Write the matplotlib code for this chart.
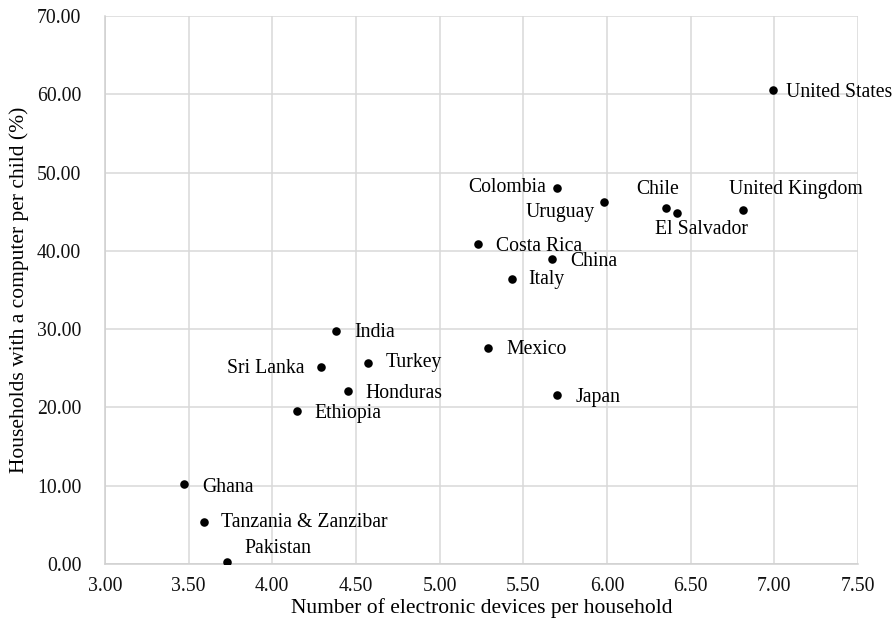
import matplotlib
matplotlib.use("Agg")
import matplotlib.pyplot as plt

countries = ["United States", "Colombia", "Uruguay", "Chile", "El Salvador", "United Kingdom",
             "Costa Rica", "China", "Italy", "India", "Sri Lanka", "Turkey", "Honduras",
             "Ethiopia", "Mexico", "Japan", "Ghana", "Tanzania & Zanzibar", "Pakistan"]
devices = [6.99, 5.70, 5.98, 6.35, 6.42, 6.81, 5.23, 5.67, 5.43, 4.38, 4.29, 4.57, 4.45,
           4.15, 5.29, 5.70, 3.47, 3.59, 3.73]
computer_pct = [60.5, 48.0, 46.2, 45.5, 44.8, 45.2, 40.9, 39.0, 36.4, 29.8, 25.2, 25.7, 22.1,
                19.5, 27.6, 21.6, 10.2, 5.4, 0.3]
xticks = [3.0, 3.5, 4.0, 4.5, 5.0, 5.5, 6.0, 6.5, 7.0, 7.5]
yticks = [0, 10, 20, 30, 40, 50, 60, 70]

# label offsets in pixels (dx, dy, ha)
offsets = {
    "United States": (13, -2, "left"),
    "Colombia": (-11, 1, "right"),
    "Uruguay": (-9, -10, "right"),
    "Chile": (-8, 18, "center"),
    "El Salvador": (24, -16, "center"),
    "United Kingdom": (53, 21, "center"),
    "Costa Rica": (18, -3, "left"),
    "China": (19, -3, "left"),
    "Italy": (17, 0, "left"),
    "India": (18, -2, "left"),
    "Sri Lanka": (-16, -2, "right"),
    "Turkey": (18, 0, "left"),
    "Honduras": (18, -2, "left"),
    "Ethiopia": (17, -2, "left"),
    "Mexico": (18, -2, "left"),
    "Japan": (19, -3, "left"),
    "Ghana": (19, -3, "left"),
    "Tanzania & Zanzibar": (17, -1, "left"),
    "Pakistan": (51, 13, "center"),
}

plt.rcParams["font.family"] = ["Liberation Serif", "DejaVu Serif"]
fig = plt.figure(figsize=(8.94, 6.26), dpi=100)
ax = fig.add_axes([0.1174, 0.0990, 0.9597 - 0.1174, 0.9744 - 0.0990])

ax.scatter(devices, computer_pct, s=38, color="black", zorder=3, linewidths=0)
px = 72 / 100
for name, x, y in zip(countries, devices, computer_pct):
    dx, dy, ha = offsets[name]
    ax.annotate(name, (x, y), xytext=(dx * px, dy * px), textcoords="offset points",
                ha=ha, va="center", fontsize=14.2, color="black")

ax.set_xlim(3.0, 7.5)
ax.set_ylim(0, 70)
ax.set_xticks(xticks)
ax.set_yticks(yticks)
ax.set_xticklabels([f"{t:.2f}" for t in xticks])
ax.set_yticklabels([f"{t:.2f}" for t in yticks])
ax.tick_params(axis="both", length=0, labelsize=14.2, colors="#111111")
ax.tick_params(axis="y", pad=17)
ax.tick_params(axis="x", pad=9)
ax.grid(True, color="#d9d9d9", linewidth=1.1)
ax.set_axisbelow(True)
for s in ["top", "right"]:
    ax.spines[s].set_visible(False)
for s in ["left", "bottom"]:
    ax.spines[s].set_color("#d0d0d0")
    ax.spines[s].set_linewidth(1.1)

ax.set_xlabel("Number of electronic devices per household", fontsize=15.5, color="black", labelpad=2)
ax.set_ylabel("Households with a computer per child (%)", fontsize=15.5, color="black", labelpad=6)

fig.savefig("out.png", dpi=100)
